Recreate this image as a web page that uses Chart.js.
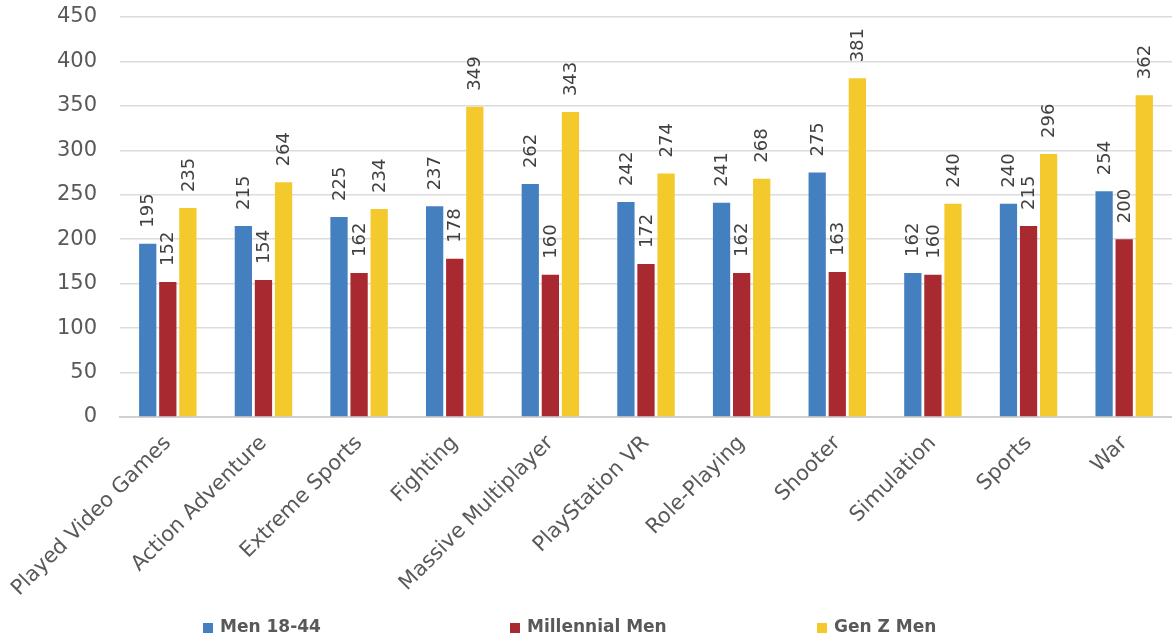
<!DOCTYPE html>
<html>
<head>
<meta charset="utf-8">
<script src="https://cdn.jsdelivr.net/npm/chart.js@4/dist/chart.umd.min.js"></script>
<style>
  html, body { margin: 0; padding: 0; background: #fff; }
  #wrap { width: 1172px; height: 642px; }
</style>
</head>
<body>
<div id="wrap"><canvas id="genreChart" width="1172" height="642"></canvas></div>
<script>
// genres on the x axis
var genres = ['Played Video Games', 'Action Adventure', 'Extreme Sports', 'Fighting',
    'Massive Multiplayer', 'PlayStation VR', 'Role-Playing', 'Shooter',
    'Simulation', 'Sports', 'War'];

// index values per group
var men1844 = [195, 215, 225, 237, 262, 242, 241, 275, 162, 240, 254];
var millennialMen = [152, 154, 162, 178, 160, 172, 162, 163, 160, 215, 200];
var genZMen = [235, 264, 234, 349, 343, 274, 268, 381, 240, 296, 362];

var fontFamily = '"DejaVu Sans", Verdana, sans-serif';

// vertical value labels above every bar
var barLabels = {
    id: 'barLabels',
    afterDatasetsDraw: function (chart) {
        var ctx = chart.ctx;
        chart.data.datasets.forEach(function (ds, i) {
            var meta = chart.getDatasetMeta(i);
            meta.data.forEach(function (bar, j) {
                ctx.save();
                ctx.translate(bar.x, bar.y - 16);
                ctx.rotate(-Math.PI / 2);
                ctx.font = '18px ' + fontFamily;
                ctx.fillStyle = '#404040';
                ctx.textAlign = 'left';
                ctx.textBaseline = 'middle';
                ctx.fillText(ds.data[j], 0, 1);
                ctx.restore();
            });
        });
    }
};

// legend spread wide across the bottom
var wideLegend = {
    id: 'wideLegend',
    afterDraw: function (chart) {
        var ctx = chart.ctx;
        var y = chart.height - 14;
        var x = chart.chartArea.left + 83;
        ctx.save();
        ctx.font = 'bold 17px ' + fontFamily;
        ctx.textBaseline = 'middle';
        ctx.textAlign = 'left';
        chart.data.datasets.forEach(function (ds) {
            ctx.fillStyle = ds.backgroundColor;
            ctx.fillRect(x, y - 5, 10, 10);
            ctx.fillStyle = '#595959';
            ctx.fillText(ds.label, x + 17, y);
            x += 307;
        });
        ctx.restore();
    }
};

var ctx = document.getElementById('genreChart').getContext('2d');
var chart = new Chart(ctx, {
    type: 'bar',
    data: {
        labels: genres,
        datasets: [{
            label: 'Men 18-44',
            backgroundColor: '#4480c0',
            data: men1844
        }, {
            label: 'Millennial Men',
            backgroundColor: '#a8292f',
            data: millennialMen
        }, {
            label: 'Gen Z Men',
            backgroundColor: '#f4c92b',
            data: genZMen
        }]
    },
    options: {
        responsive: false,
        animation: false,
        layout: { padding: { top: 0, right: 0, left: 0, bottom: 33 } },
        datasets: {
            bar: { categoryPercentage: 0.63, barPercentage: 0.86 }
        },
        scales: {
            x: {
                afterFit: function (scale) {
                    scale.height = 192;
                    scale.paddingLeft = 0;
                    scale.paddingRight = 0;
                },
                grid: { display: false, drawTicks: false },
                border: { color: '#d0d0d0', width: 2 },
                ticks: {
                    minRotation: 45,
                    maxRotation: 45,
                    autoSkip: false,
                    padding: 14,
                    color: '#595959',
                    font: { family: fontFamily, size: 21 }
                }
            },
            y: {
                min: 0,
                max: 450,
                afterFit: function (scale) {
                    scale.width = 120;
                    scale.paddingTop = 17;
                },
                grid: { color: '#dcdcdc', lineWidth: 1.5, drawTicks: false },
                border: { display: false },
                ticks: {
                    stepSize: 50,
                    autoSkip: false,
                    padding: 23,
                    color: '#595959',
                    font: { family: fontFamily, size: 21 }
                }
            }
        },
        plugins: {
            legend: { display: false },
            tooltip: { enabled: false }
        }
    },
    plugins: [barLabels, wideLegend]
});
</script>
</body>
</html>
